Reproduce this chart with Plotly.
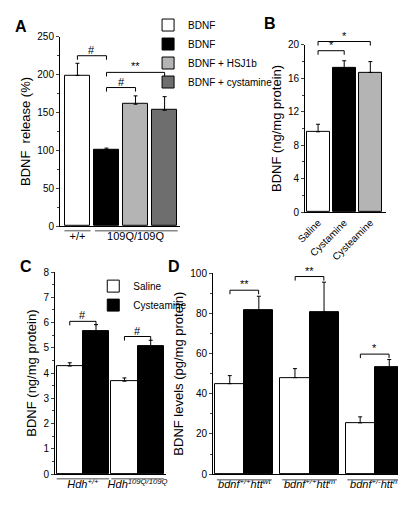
import plotly.graph_objects as go

# Panel A
a_labels = ["BDNF", "BDNF", "BDNF + HSJ1b", "BDNF + cystamine"]
a_vals = [199, 101, 161, 153]
a_err = [16, 2, 11, 18]
a_colors = ["white", "black", "#b4b4b4", "#6e6e6e"]
# Panel B
b_cats = ["Saline", "Cystamine", "Cysteamine"]
b_vals = [9.6, 17.2, 16.7]
b_err = [0.9, 0.9, 1.3]
b_colors = ["white", "black", "#b4b4b4"]
# Panel C
c_groups = ["<i>Hdh</i><sup><i>+/+</i></sup>", "<i>Hdh</i><sup><i>109Q/109Q</i></sup>"]
c_saline = [4.28, 3.68]
c_saline_err = [0.13, 0.13]
c_cyst = [5.65, 5.05]
c_cyst_err = [0.27, 0.25]
# Panel D
d_groups = ["<i>bdnf</i><sup><i>+/+</i></sup><i>htt</i><sup><i>wt</i></sup>",
            "<i>bdnf</i><sup><i>+/+</i></sup><i>htt</i><sup><i>m</i></sup>",
            "<i>bdnf</i><sup><i>+/-</i></sup><i>htt</i><sup><i>m</i></sup>"]
d_saline = [45, 48, 25.5]
d_saline_err = [4, 4.5, 3]
d_cyst = [81.5, 80.5, 53]
d_cyst_err = [7, 15, 4]

FONT = "Liberation Sans"
DOM = {"y": ([0.568, 0.943], [0, 250]), "y2": ([0.596, 0.927], [0, 20]),
       "y3": ([0.077, 0.477], [0, 8]), "y4": ([0.077, 0.475], [0, 100])}
def py(yr, v):
    (d0, d1), (r0, r1) = DOM[yr]
    return d0 + (v - r0) / (r1 - r0) * (d1 - d0)

fig = go.Figure()
eb = dict(type="data", color="black", thickness=1, width=2)

for i in range(4):
    fig.add_trace(go.Bar(x=[i], y=[a_vals[i]], width=0.86, name=a_labels[i],
        marker=dict(color=a_colors[i], line=dict(color="black", width=1)),
        error_y=dict(array=[a_err[i]], arrayminus=[0], **eb),
        xaxis="x", yaxis="y", legend="legend"))
fig.add_trace(go.Bar(x=list(range(3)), y=b_vals, width=0.88, showlegend=False,
    marker=dict(color=b_colors, line=dict(color="black", width=1)),
    error_y=dict(array=b_err, arrayminus=[0]*3, **eb), xaxis="x2", yaxis="y2"))
fig.add_trace(go.Bar(x=[0, 1], y=c_saline, width=0.48, offset=-0.48, name="Saline",
    marker=dict(color="white", line=dict(color="black", width=1)),
    error_y=dict(array=c_saline_err, arrayminus=[0, 0], **eb), xaxis="x3", yaxis="y3", legend="legend2"))
fig.add_trace(go.Bar(x=[0, 1], y=c_cyst, width=0.48, offset=0, name="Cysteamine",
    marker=dict(color="black", line=dict(color="black", width=1)),
    error_y=dict(array=c_cyst_err, arrayminus=[0, 0], **eb), xaxis="x3", yaxis="y3", legend="legend2"))
fig.add_trace(go.Bar(x=[0, 1, 2], y=d_saline, width=0.446, offset=-0.446, showlegend=False,
    marker=dict(color="white", line=dict(color="black", width=1)),
    error_y=dict(array=d_saline_err, arrayminus=[0]*3, **eb), xaxis="x4", yaxis="y4"))
fig.add_trace(go.Bar(x=[0, 1, 2], y=d_cyst, width=0.446, offset=0, showlegend=False,
    marker=dict(color="black", line=dict(color="black", width=1)),
    error_y=dict(array=d_cyst_err, arrayminus=[0]*3, **eb), xaxis="x4", yaxis="y4"))

shapes, annots = [], []
def bracket(xr, yr, x0, x1, y, drop, txt):
    ya, yb = py(yr, y), py(yr, y) - drop
    shapes.append(dict(type="path", xref=xr, yref="paper",
        path=f"M {x0},{yb} L {x0},{ya} L {x1},{ya} L {x1},{yb}",
        line=dict(color="black", width=1)))
    annots.append(dict(xref=xr, yref="paper", x=(x0+x1)/2, y=ya, text=txt, showarrow=False,
        yanchor="bottom", font=dict(size=11, color="black"), yshift=-2))

D = 0.008
bracket("x", "y", 0, 1, 225, D, "#")
bracket("x", "y", 1, 3, 203, D, "**")
bracket("x", "y", 1, 2, 183, D, "#")
bracket("x2", "y2", 0, 2, 20.4, D, "*")
bracket("x2", "y2", 0, 1, 19.3, D, "*")
bracket("x3", "y3", -0.24, 0.24, 6.05, D, "#")
bracket("x3", "y3", 0.76, 1.24, 5.45, D, "#")
bracket("x4", "y4", -0.22, 0.22, 91.5, D, "**")
bracket("x4", "y4", 0.78, 1.22, 98.3, D, "**")
bracket("x4", "y4", 1.78, 2.22, 59.7, D, "*")

def uline(xr, yp, x0, x1):
    shapes.append(dict(type="line", xref=xr, yref="paper", x0=x0, x1=x1, y0=yp, y1=yp,
        line=dict(color="#888888", width=1.5)))
uline("x", 0.559, -0.45, 0.45)
uline("x", 0.559, 0.6, 3.45)
uline("x3", 0.068, -0.48, 0.48)
uline("x3", 0.068, 0.52, 1.48)
for g in range(3):
    uline("x4", 0.066, g-0.42, g+0.42)

for txt, x, y in [("A", 13, 18), ("B", 262, 15), ("C", 18, 258), ("D", 166, 258)]:
    annots.append(dict(xref="paper", yref="paper", x=x/406, y=1-y/505, text=f"<b>{txt}</b>",
        xanchor="center", yanchor="middle",
        showarrow=False, font=dict(size=16, color="black", family="Liberation Sans")))

def yax(dom, rng, dt, title):
    return dict(domain=dom, range=rng, dtick=dt, ticks="outside", ticklen=3, showgrid=False,
        zeroline=False, showline=True, linecolor="black", linewidth=1, automargin=False,
        tickfont=dict(size=10), minor=dict(dtick=dt/2, ticks="outside", ticklen=2),
        title=dict(text=title, font=dict(size=13), standoff=3))
def xax(dom, rng, anchor, **kw):
    d = dict(domain=dom, range=rng, anchor=anchor, showgrid=False, zeroline=False, automargin=False,
             showline=True, linecolor="black", linewidth=1, ticks="", tickfont=dict(size=11))
    d.update(kw); return d

fig.update_layout(
    width=406, height=505, margin=dict(l=0, r=0, t=0, b=0, autoexpand=False),
    paper_bgcolor="white", plot_bgcolor="white",
    font=dict(family=FONT, color="black"),
    xaxis=xax([52/406, 172/406], [-0.6, 3.53], "y", tickvals=[0, 2], ticktext=["+/+", "109Q/109Q"]),
    yaxis=yax(*DOM["y"], 50, "BDNF  release (%)"),
    xaxis2=xax([297/406, 378/406], [-0.5, 2.6], "y2", tickvals=[0, 1, 2], ticktext=b_cats, tickangle=-45, tickfont=dict(size=10)),
    yaxis2=dict(yax(*DOM["y2"], 4, "BDNF (ng/mg protein)"), anchor="x2"),
    xaxis3=xax([47/406, 158/406], [-0.51, 1.52], "y3", tickvals=[0, 1], ticktext=c_groups),
    yaxis3=dict(yax(*DOM["y3"], 1, "BDNF (ng/mg protein)"), anchor="x3"),
    xaxis4=xax([205/406, 398/406], [-0.48, 2.48], "y4", tickvals=[0, 1, 2], ticktext=d_groups),
    yaxis4=dict(yax(*DOM["y4"], 20, "BDNF levels (pg/mg protein)"), anchor="x4"),
    legend=dict(x=0.345, y=0.995, xanchor="left", yanchor="top", font=dict(size=10),
        tracegroupgap=0, itemwidth=30, bgcolor="rgba(0,0,0,0)"),
    legend2=dict(x=0.21, y=0.478, xanchor="left", yanchor="top", font=dict(size=10),
        itemwidth=30, bgcolor="rgba(0,0,0,0)"),
    shapes=shapes, annotations=annots, bargap=0,
)
fig.write_html("out.html")
